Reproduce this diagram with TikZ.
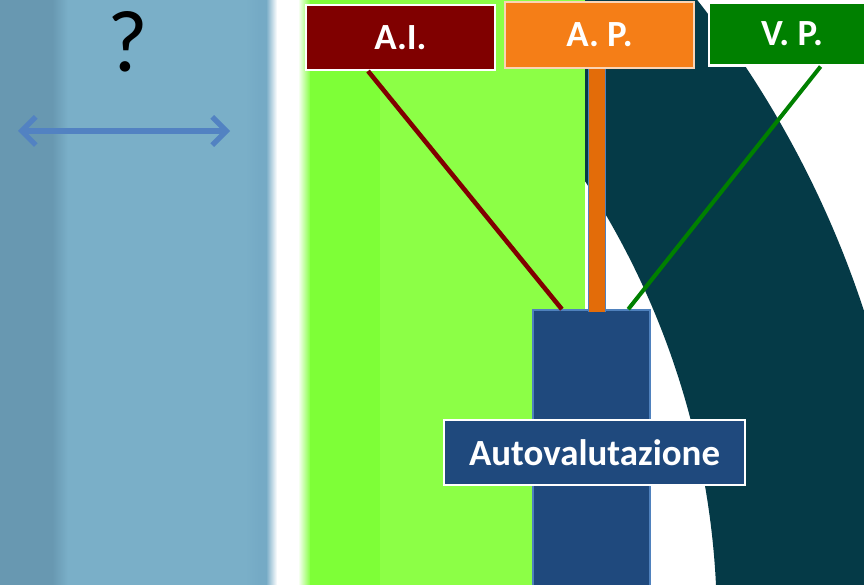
\documentclass[tikz,border=0pt]{standalone}
\usepackage{fontspec}
\setmainfont{Carlito}
\usetikzlibrary{arrows.meta,calc}

\definecolor{bandblue}{HTML}{7AAFC8}
\definecolor{banddark}{HTML}{6898B1}
\definecolor{bandedge}{HTML}{75AAC5}
\definecolor{grass}{HTML}{8CFF46}
\definecolor{grassdark}{HTML}{7EFF37}
\definecolor{ringteal}{HTML}{053A47}
\definecolor{navy}{HTML}{1F497D}
\definecolor{steel}{HTML}{4F81BD}
\definecolor{arrowblue}{HTML}{5282C2}
\definecolor{maroon}{HTML}{800000}
\definecolor{tangerine}{HTML}{F57E17}
\definecolor{peach}{HTML}{FBD4B4}
\definecolor{barorange}{HTML}{E36C09}
\definecolor{leaf}{HTML}{008000}

\tikzset{
  tag/.style={draw=white, line width=1.2pt, text=white, inner sep=0pt,
    font=\bfseries\fontsize{21}{24}\selectfont,
    minimum width=3.78cm, minimum height=1.3cm},
  pillar/.style={draw=steel, fill=navy, line width=0.9pt, inner sep=0pt,
    minimum width=2.34cm, minimum height=5.8cm},
  link/.style={line width=2.6pt}
}

\begin{document}
\begin{tikzpicture}[x=0.02cm,y=-0.02cm]

% Frame of the picture
\useasboundingbox (0,0) rectangle (864,584);
\clip (0,0) rectangle (864,584);

% Define the centre and radii of the dark ring
\def\cx{-98}
\def\cy{626}
\def\rIn{815}
\def\rOut{1012}

% Draw the dark ring
\fill[ringteal, even odd rule] (\cx,\cy) circle[radius=\rOut]
  (\cx,\cy) circle[radius=\rIn];

% Draw the blue band on the left
\fill[bandblue] (-10,-10) rectangle (270,600);
\fill[banddark] (-10,-10) rectangle (53,600);
\shade[left color=banddark, right color=bandblue] (52,-10) rectangle (68,600);
\shade[left color=bandblue, right color=bandedge] (245,-10) rectangle (259,600);
\fill[bandedge] (258,-10) rectangle (267,600);
\shade[left color=bandedge, right color=white] (266,-10) rectangle (277,600);

% Draw the green band
\shade[left color=white, right color=grassdark] (298,-10) rectangle (311,600);
\fill[grassdark] (310,-10) rectangle (381,600);
\fill[grass] (380,-10) rectangle (585,600);

% Question mark and width arrow
\node[font=\fontsize{50}{60}\selectfont] (quest) at (128,42) {?};
\coordinate (wl) at (18,131); \coordinate (wr) at (230,131);
\draw[arrowblue, line width=3pt, line cap=round,
  {Straight Barb[length=8pt,width=16pt]}-{Straight Barb[length=8pt,width=16pt]}]
  (wl) -- (wr);

% The tall pillar
\node[pillar] (bar) at (591.5,455) {};

% Label boxes on top
\node[tag, fill=maroon] (ai) at (400.5,37.5) {A.I.};
\node[tag, fill=tangerine, draw=peach, minimum height=1.32cm] (ap) at (599.5,35) {A. P.};
\node[tag, fill=leaf, minimum width=3.32cm, minimum height=1.26cm] (vp) at (792,34) {V. P.};

% Connect the boxes to the pillar
\coordinate (apfoot) at ($(ap.south west)!.485!(ap.south east)$);
\draw[link, maroon] ($(ai.south west)!.33!(ai.south east)$) --
  ($(bar.north west)!.25!(bar.north east)$);
\draw[steel, line width=0.6pt, double=barorange, double distance=0.32cm]
  (apfoot) -- ($(apfoot |- bar.north)+(0,3)$);
\draw[link, leaf, line width=2.3pt] ($(vp.south west)!.67!(vp.south east)$) --
  ($(bar.north west)!.81!(bar.north east)$);

% Label of the pillar
\node[tag, fill=navy, minimum width=6.02cm] (autoval) at (594.5,452.5) {Autovalutazione};

\end{tikzpicture}
\end{document}
